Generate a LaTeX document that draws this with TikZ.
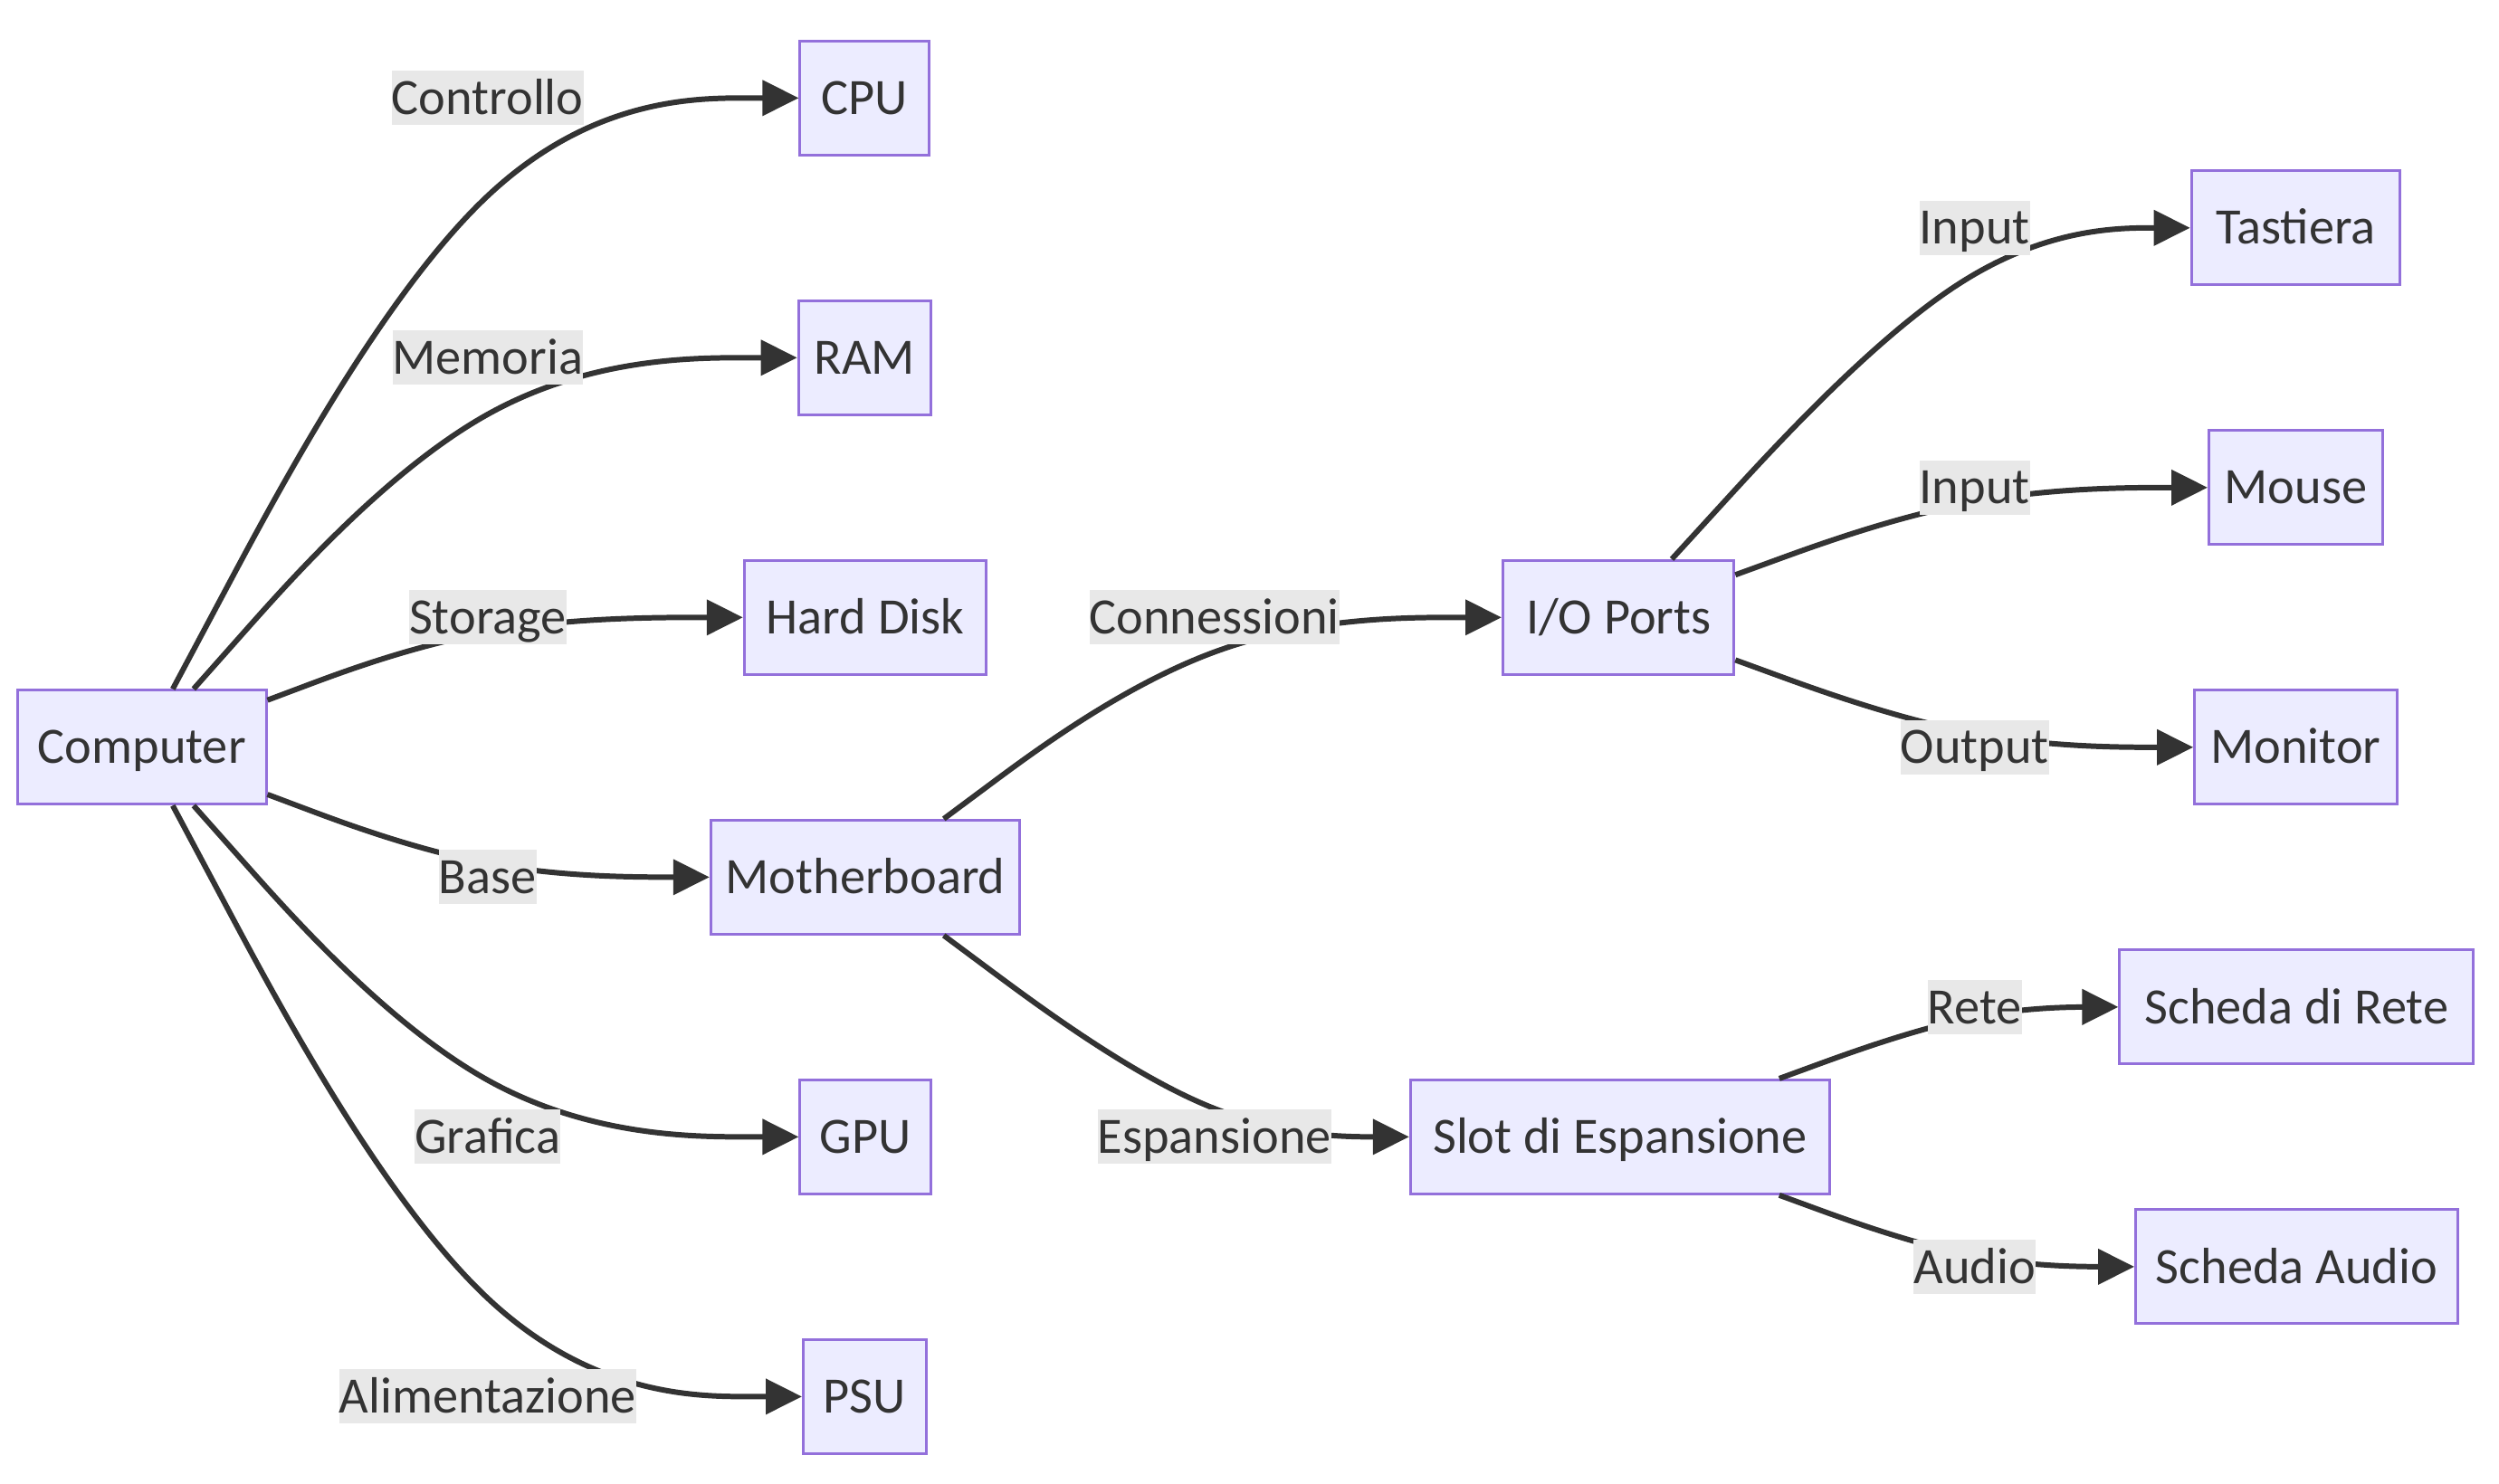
\documentclass[tikz,border=0pt]{standalone}
\usepackage{fontspec}
\setmainfont{Carlito}
\usetikzlibrary{arrows.meta,calc}
\definecolor{nodefill}{HTML}{ECECFF}
\definecolor{nodeline}{HTML}{9370DB}
\definecolor{ink}{HTML}{333333}
\definecolor{lblbg}{HTML}{E8E8E8}
\newcommand\linkto[4]{%
  \coordinate (tmpx) at (#3,0);
  \coordinate (#4) at (tmpx |- #2);
  \path (#1) -- (#4) coordinate[pos=0] (P0);
  \coordinate (P2) at (#2.west);
  \draw[edgeline] (P0) -- ($(P0)!0.16667!(#4)$)
    .. controls ($(P0)!0.33333!(#4)$) and ($(P0)!0.66667!(#4)$) .. ($0.16667*(P0)+0.66667*(#4)+0.16667*(P2)$)
    .. controls ($(#4)!0.33333!(P2)$) and ($(#4)!0.66667!(P2)$) .. ($(#4)!0.83333!(P2)$)
    -- (P2);
}
\begin{document}
\begin{tikzpicture}[x=1pt,y=-1pt,
  box/.style={draw=nodeline, fill=nodefill, line width=1.7pt, minimum height=71.5pt,
    inner sep=0pt, text=ink, font=\fontsize{32}{38}\selectfont, text height=20.6pt, text depth=0pt},
  lbl/.style={fill=lblbg, inner sep=0pt, minimum height=34pt, text=ink,
    font=\fontsize{32}{38}\selectfont, text height=20.6pt, text depth=0pt},
  edgeline/.style={draw=ink, line width=3.4pt, -{Triangle[length=22.7pt,width=21.8pt]}}]
\fill[white] (0,0) rectangle (1568,931);
\useasboundingbox (0,0) rectangle (1568,931);
% nodes
\node[box, minimum width=156pt] (comp) at (89,469) {Computer};
\node[box, minimum width=81pt] (cpu) at (542.5,61.5) {CPU};
\node[box, minimum width=83pt] (ram) at (542.5,224.5) {RAM};
\node[box, minimum width=152pt] (hd) at (543,387.5) {Hard Disk};
\node[box, minimum width=194pt] (mb) at (543,550.5) {Motherboard};
\node[box, minimum width=82pt] (gpu) at (543,713.5) {GPU};
\node[box, minimum width=77pt] (psu) at (542.5,876.5) {PSU};
\node[box, minimum width=145pt] (io) at (1015.5,387.5) {I/O Ports};
\node[box, minimum width=263pt] (slot) at (1016.5,713.5) {Slot di Espansione};
\node[box, minimum width=131pt] (tast) at (1440.5,143) {Tastiera};
\node[box, minimum width=109pt] (mouse) at (1440.5,306) {Mouse};
\node[box, minimum width=127pt] (mon) at (1440.5,469) {Monitor};
\node[box, minimum width=222pt] (rete) at (1441,632) {Scheda di Rete};
\node[box, minimum width=202pt] (audio) at (1441,795) {Scheda Audio};
% edges
\linkto{comp}{cpu}{306}{e1}
\linkto{comp}{ram}{306}{e2}
\linkto{comp}{hd}{306}{e3}
\linkto{comp}{mb}{306}{e4}
\linkto{comp}{gpu}{306}{e5}
\linkto{comp}{psu}{306}{e6}
\linkto{mb}{io}{762}{e7}
\linkto{mb}{slot}{762}{e8}
\linkto{io}{tast}{1239}{e9}
\linkto{io}{mouse}{1239}{e10}
\linkto{io}{mon}{1239}{e11}
\linkto{slot}{rete}{1239}{e12}
\linkto{slot}{audio}{1239}{e13}
% labels
\node[lbl] (t1) at (e1) {Controllo};
\node[lbl] (t2) at (e2) {Memoria};
\node[lbl] (t3) at (e3) {Storage};
\node[lbl] (t4) at (e4) {Base};
\node[lbl] (t5) at (e5) {Grafica};
\node[lbl] (t6) at (e6) {Alimentazione};
\node[lbl] (t7) at (e7) {Connessioni};
\node[lbl] (t8) at (e8) {Espansione};
\node[lbl] (t9) at (e9) {Input};
\node[lbl] (t10) at (e10) {Input};
\node[lbl] (t11) at (e11) {Output};
\node[lbl] (t12) at (e12) {Rete};
\node[lbl] (t13) at (e13) {Audio};
\end{tikzpicture}
\end{document}
